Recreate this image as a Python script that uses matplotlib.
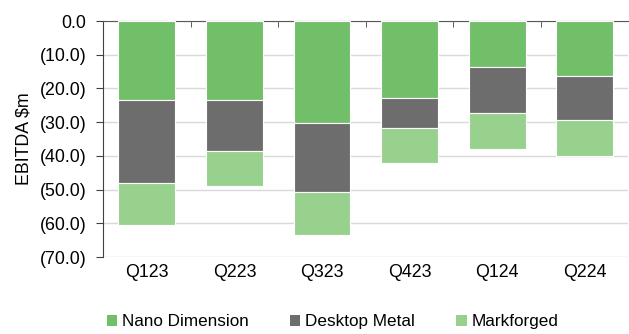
import numpy as np
import matplotlib.pyplot as plt
from matplotlib.patches import Patch
from matplotlib.ticker import FuncFormatter

plt.rcParams['font.family'] = ['Liberation Sans', 'DejaVu Sans']

quarters = ['Q123', 'Q223', 'Q323', 'Q423', 'Q124', 'Q224']
nano_dimension = [-23.4, -23.4, -30.2, -22.7, -13.6, -16.2]
desktop_metal = [-24.7, -15.1, -20.4, -9.0, -13.6, -13.1]
markforged = [-12.3, -10.4, -12.8, -10.3, -10.7, -10.7]

series = [
    ('Nano Dimension', nano_dimension, '#72BF69'),
    ('Desktop Metal', desktop_metal, '#6D6D6D'),
    ('Markforged', markforged, '#98D18E'),
]

fs = 12.8

fig = plt.figure(figsize=(6.29, 3.34), dpi=100)
ax = fig.add_axes([0.164, 0.2305, 0.835, 0.7065])

x = np.arange(len(quarters))
bottom = np.zeros(len(quarters))
for name, vals, col in series:
    vals = np.array(vals)
    ax.bar(x, vals, bottom=bottom, width=0.65, color=col,
           edgecolor='white', linewidth=0.8, zorder=3)
    bottom += vals

ax.set_xlim(-0.5, len(quarters) - 0.5)
ax.set_ylim(-70, 0)
ax.set_yticks(np.arange(-70, 1, 10))
ax.yaxis.set_major_formatter(FuncFormatter(
    lambda v, p: '0.0' if v == 0 else '({:.1f})'.format(abs(v))))
ax.grid(axis='y', color='#D9D9D9', linewidth=1, zorder=0)

ax.set_xticks(x)
ax.set_xticklabels(quarters)
ax.set_xticks(np.arange(0.5, len(quarters) - 1, 1), minor=True)
ax.tick_params(axis='x', which='major', length=0, pad=5, labelsize=fs)
ax.tick_params(axis='x', which='minor', bottom=False, top=True,
               direction='in', length=4, color='#404040')
ax.tick_params(axis='y', length=5, color='#404040', labelsize=fs, pad=7)

for s in ['right', 'bottom']:
    ax.spines[s].set_visible(False)
ax.spines['top'].set_color('#595959')
ax.spines['left'].set_color('#404040')

ax.set_ylabel('EBITDA $m', fontsize=fs, labelpad=5)

handles = [Patch(facecolor=col, edgecolor='none', label=name)
           for name, vals, col in series]
fig.legend(handles=handles, loc='center', bbox_to_anchor=(0.529, 0.036),
           ncol=3, frameon=False, fontsize=12.3, handlelength=0.6,
           handleheight=0.6, handletextpad=0.3, columnspacing=2.4)

fig.savefig('out.png', dpi=100)
